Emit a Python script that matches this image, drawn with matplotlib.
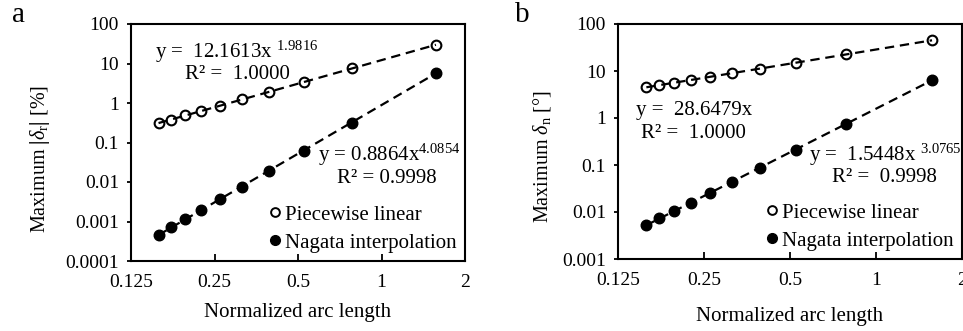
import numpy as np
import matplotlib
matplotlib.use("Agg")
import matplotlib.pyplot as plt
from matplotlib.lines import Line2D

plt.rcParams['font.family'] = ['Liberation Serif', 'DejaVu Serif']
plt.rcParams['mathtext.fontset'] = 'custom'
plt.rcParams['mathtext.rm'] = 'Liberation Serif'
plt.rcParams['mathtext.it'] = 'Liberation Serif:italic'
plt.rcParams['mathtext.bf'] = 'Liberation Serif:bold'

# ---- data ----
arc_length = [0.1571, 0.1745, 0.1963, 0.2244, 0.2618, 0.3142, 0.3927, 0.5236, 0.7854, 1.5708]

a_piecewise = [0.31, 0.382, 0.483, 0.629, 0.854, 1.23, 1.91, 3.37, 7.53, 29.8]
a_nagata = [4.6e-4, 7.2e-4, 1.15e-3, 1.95e-3, 3.7e-3, 7.6e-3, 0.019, 0.061, 0.32, 5.9]

b_piecewise = [4.5, 5.0, 5.625, 6.43, 7.5, 9.0, 11.25, 15.0, 22.5, 45.0]
b_nagata = [5.3e-3, 7.3e-3, 0.0105, 0.0158, 0.025, 0.044, 0.087, 0.21, 0.74, 6.5]

x_ticks = [0.125, 0.25, 0.5, 1, 2]
x_tick_labels = ['0.125', '0.25', '0.5', '1', '2']
a_y_ticks = [1e-4, 1e-3, 1e-2, 1e-1, 1, 10, 100]
a_y_labels = ['0.0001', '0.001', '0.01', '0.1', '1', '10', '100']
b_y_ticks = [1e-3, 1e-2, 1e-1, 1, 10, 100]
b_y_labels = ['0.001', '0.01', '0.1', '1', '10', '100']

series_names = ['Piecewise linear', 'Nagata interpolation']

FS_TICK = 14
FS = 15
FS_YLAB = 14.5
W, H = 963, 331
fig = plt.figure(figsize=(W / 100, H / 100), dpi=100)

def px_axes(l, t, r, b):
    return fig.add_axes([l / W, 1 - b / H, (r - l) / W, (b - t) / H])

ax_a = px_axes(131, 24, 465, 261)
ax_b = px_axes(618, 24, 962, 259)


def trend(ax, x, y):
    lx, ly = np.log(x), np.log(y)
    k, c = np.polyfit(lx, ly, 1)
    xs = np.array([x[0], x[-1]])
    ax.plot(xs, np.exp(c) * xs ** k, color='black', lw=1.6,
            dashes=(4.2, 2.6), zorder=2)


def setup(ax, yticks, ylabels, ylim, ylab, ylab_x, ylab_y, xlab_y):
    ax.set_xscale('log', base=2)
    ax.set_yscale('log')
    ax.set_xlim(0.125, 2)
    ax.set_ylim(*ylim)
    ax.set_xticks(x_ticks)
    ax.set_xticklabels(x_tick_labels)
    ax.set_yticks(yticks)
    ax.set_yticklabels(ylabels)
    ax.minorticks_off()
    ax.tick_params(axis='x', direction='in', length=5, width=1.3,
                   pad=9.5, labelsize=FS_TICK)
    ax.tick_params(axis='y', direction='out', length=3, width=1.3,
                   pad=5.6, labelsize=FS_TICK)
    for s in ax.spines.values():
        s.set_linewidth(1.5)
    ax.set_xlabel('Normalized arc length', fontsize=FS)
    ax.xaxis.set_label_coords(0.5, xlab_y)
    ax.xaxis.label.set_va('center')
    ax.set_ylabel(ylab, fontsize=FS_YLAB)
    ax.yaxis.set_label_coords(ylab_x, ylab_y)
    ax.yaxis.label.set_va('center')


def draw(ax, pw, ng):
    trend(ax, arc_length, pw)
    trend(ax, arc_length, ng)
    ax.plot(arc_length, pw, ls='none', marker='o', ms=7.0, mfc='none',
            mec='black', mew=1.5, zorder=3)
    ax.plot(arc_length, ng, ls='none', marker='o', ms=7.6, mfc='black',
            mec='black', mew=1.0, zorder=3)
    handles = [Line2D([], [], ls='none', marker='o', ms=6.3, mfc='none',
                      mec='black', mew=1.4),
               Line2D([], [], ls='none', marker='o', ms=7.0, mfc='black',
                      mec='black')]
    ax.legend(handles, series_names, loc='lower right', frameon=False,
              fontsize=FS, handlelength=0.5, handletextpad=0.25,
              labelspacing=0.4, borderaxespad=0.15, borderpad=0.25)


setup(ax_a, a_y_ticks, a_y_labels, (1e-4, 100),
      r'Maximum $\mathbf{|}\mathit{\delta}_{\mathrm{r}}\mathbf{|}$ [%]', -0.272, 0.43, -0.219)
draw(ax_a, a_piecewise, a_nagata)
setup(ax_b, b_y_ticks, b_y_labels, (1e-3, 100),
      r'Maximum $\mathit{\delta}_{\mathrm{n}}$ [°]', -0.221, 0.434, -0.243)
draw(ax_b, b_piecewise, b_nagata)

ax_a.text(0.072, 0.882, r'y =  12.1613x $^{\mathrm{1.9816}}$', transform=ax_a.transAxes,
          fontsize=FS, va='center', ha='left')
ax_a.text(0.162, 0.785, 'R² =  1.0000', transform=ax_a.transAxes,
          fontsize=FS, va='center', ha='left')
ax_a.text(0.56, 0.447, r'y = 0.8864x$^{\mathrm{4.0854}}$', transform=ax_a.transAxes,
          fontsize=FS, va='center', ha='left')
ax_a.text(0.617, 0.35, 'R² = 0.9998', transform=ax_a.transAxes,
          fontsize=FS, va='center', ha='left')

ax_b.text(0.052, 0.634, 'y =  28.6479x', transform=ax_b.transAxes,
          fontsize=FS, va='center', ha='left')
ax_b.text(0.067, 0.536, 'R² =  1.0000', transform=ax_b.transAxes,
          fontsize=FS, va='center', ha='left')
ax_b.text(0.556, 0.443, r'y =  1.5448x $^{\mathrm{3.0765}}$', transform=ax_b.transAxes,
          fontsize=FS, va='center', ha='left')
ax_b.text(0.622, 0.345, 'R² =  0.9998', transform=ax_b.transAxes,
          fontsize=FS, va='center', ha='left')

fig.text(12 / W, 1 - 15 / H, 'a', fontsize=21, va='center', ha='left')
fig.text(515 / W, 1 - 15 / H, 'b', fontsize=21, va='center', ha='left')

fig.savefig('out.png', dpi=100)
